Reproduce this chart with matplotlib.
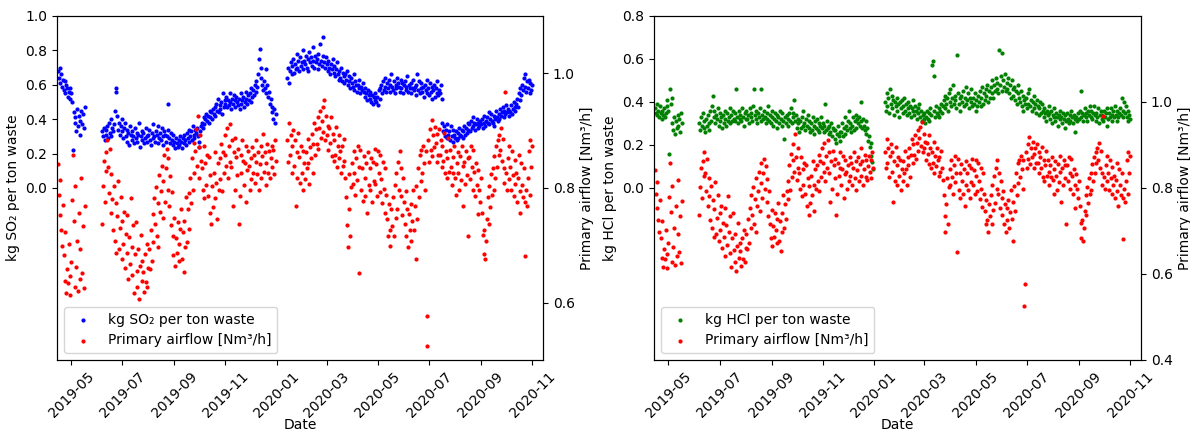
import numpy as np
import pandas as pd
import matplotlib
matplotlib.use('Agg')
from matplotlib import pyplot as plt
import matplotlib.dates as mdates

# three measuring periods (start dates), daily values
seg_starts = ['2019-04-15', '2019-06-07', '2020-01-14']

# kg SO2 per ton waste
so2_a = [0.68, 0.64, 0.70, 0.61, 0.66, 0.59, 0.63,
         0.57, 0.62, 0.55, 0.60, 0.58, 0.53, 0.56,
         0.52, 0.58, 0.55, 0.50, 0.22, 0.44, 0.38,
         0.41, 0.33, 0.46, 0.36, 0.42, 0.31, 0.39,
         0.45, 0.37, 0.43, 0.35, 0.47]
so2_b = [0.33, 0.30, 0.35, 0.28, 0.34, 0.31, 0.36,
         0.29, 0.38, 0.32, 0.40, 0.30, 0.35, 0.33,
         0.37, 0.45, 0.56, 0.58, 0.42, 0.34, 0.38,
         0.31, 0.36, 0.40, 0.33, 0.29, 0.35, 0.38,
         0.30, 0.27, 0.34, 0.32, 0.25, 0.36, 0.31,
         0.28, 0.33, 0.30, 0.26, 0.35, 0.29, 0.32,
         0.27, 0.31, 0.38, 0.24, 0.30, 0.33, 0.28,
         0.32, 0.26, 0.29, 0.35, 0.30, 0.27, 0.31,
         0.34, 0.28, 0.25, 0.32, 0.37, 0.29, 0.30,
         0.27, 0.33, 0.31, 0.26, 0.36, 0.29, 0.32,
         0.28, 0.35, 0.30, 0.25, 0.33, 0.31, 0.27,
         0.30, 0.34, 0.49, 0.29, 0.26, 0.32, 0.28,
         0.31, 0.25, 0.27, 0.23, 0.29, 0.26, 0.24,
         0.28, 0.25, 0.30, 0.27, 0.23, 0.29, 0.26,
         0.31, 0.28, 0.25, 0.32, 0.29, 0.34, 0.27,
         0.30, 0.33, 0.28, 0.36, 0.31, 0.29, 0.34,
         0.32, 0.35, 0.30, 0.27, 0.24, 0.33, 0.36,
         0.38, 0.35, 0.41, 0.37, 0.40, 0.43, 0.39,
         0.42, 0.38, 0.45, 0.41, 0.44, 0.40, 0.46,
         0.43, 0.47, 0.42, 0.49, 0.45, 0.52, 0.44,
         0.48, 0.46, 0.50, 0.43, 0.55, 0.47, 0.51,
         0.49, 0.53, 0.47, 0.51, 0.48, 0.55, 0.50,
         0.46, 0.52, 0.49, 0.54, 0.47, 0.51, 0.53,
         0.50, 0.48, 0.52, 0.46, 0.55, 0.49, 0.51,
         0.53, 0.47, 0.50, 0.56, 0.52, 0.49, 0.54,
         0.51, 0.55, 0.58, 0.50, 0.53, 0.57, 0.54,
         0.60, 0.56, 0.62, 0.59, 0.66, 0.75, 0.81,
         0.70, 0.64, 0.60, 0.57, 0.62, 0.58, 0.55,
         0.69, 0.60, 0.53, 0.56, 0.49, 0.52, 0.47,
         0.44, 0.40, 0.46, 0.38, 0.43]
so2_c = [0.64, 0.70, 0.61, 0.68, 0.73, 0.66, 0.71,
         0.75, 0.67, 0.72, 0.69, 0.78, 0.70, 0.74,
         0.68, 0.76, 0.71, 0.73, 0.80, 0.69, 0.74,
         0.72, 0.77, 0.70, 0.75, 0.68, 0.79, 0.73,
         0.76, 0.71, 0.74, 0.82, 0.70, 0.77, 0.73,
         0.75, 0.69, 0.78, 0.72, 0.84, 0.74, 0.71,
         0.77, 0.88, 0.73, 0.70, 0.76, 0.72, 0.68,
         0.74, 0.70, 0.66, 0.72, 0.69, 0.75, 0.67,
         0.71, 0.65, 0.69, 0.73, 0.66, 0.63, 0.68,
         0.64, 0.70, 0.62, 0.67, 0.65, 0.61, 0.66,
         0.63, 0.68, 0.60, 0.65, 0.62, 0.58, 0.64,
         0.61, 0.59, 0.66, 0.57, 0.62, 0.60, 0.56,
         0.60, 0.58, 0.63, 0.55, 0.59, 0.57, 0.61,
         0.56, 0.53, 0.58, 0.55, 0.51, 0.57, 0.54,
         0.52, 0.56, 0.50, 0.54, 0.49, 0.53, 0.51,
         0.55, 0.50, 0.53, 0.48, 0.57, 0.52, 0.58,
         0.60, 0.55, 0.62, 0.57, 0.59, 0.64, 0.56,
         0.61, 0.58, 0.63, 0.56, 0.60, 0.66, 0.59,
         0.57, 0.62, 0.55, 0.60, 0.58, 0.64, 0.61,
         0.59, 0.56, 0.63, 0.58, 0.61, 0.55, 0.60,
         0.62, 0.57, 0.59, 0.65, 0.56, 0.60, 0.58,
         0.55, 0.61, 0.58, 0.63, 0.57, 0.59, 0.54,
         0.60, 0.66, 0.57, 0.62, 0.55, 0.58, 0.61,
         0.56, 0.59, 0.53, 0.60, 0.57, 0.63, 0.55,
         0.58, 0.54, 0.61, 0.56, 0.59, 0.52, 0.57,
         0.60, 0.53, 0.58, 0.55, 0.62, 0.54, 0.57,
         0.55, 0.60, 0.52, 0.38, 0.33, 0.36, 0.30,
         0.34, 0.29, 0.37, 0.31, 0.33, 0.28, 0.36,
         0.30, 0.27, 0.34, 0.31, 0.29, 0.33, 0.28,
         0.32, 0.29, 0.35, 0.31, 0.30, 0.34, 0.29,
         0.33, 0.36, 0.31, 0.35, 0.32, 0.38, 0.34,
         0.37, 0.33, 0.39, 0.35, 0.41, 0.36, 0.38,
         0.34, 0.37, 0.40, 0.35, 0.38, 0.36, 0.39,
         0.37, 0.40, 0.35, 0.38, 0.42, 0.36, 0.39,
         0.41, 0.38, 0.44, 0.37, 0.40, 0.43, 0.39,
         0.38, 0.42, 0.36, 0.40, 0.45, 0.41, 0.39,
         0.43, 0.40, 0.46, 0.42, 0.44, 0.47, 0.41,
         0.45, 0.43, 0.48, 0.44, 0.46, 0.42, 0.45,
         0.44, 0.48, 0.43, 0.46, 0.50, 0.45, 0.47,
         0.49, 0.52, 0.47, 0.55, 0.51, 0.58, 0.54,
         0.60, 0.57, 0.64, 0.59, 0.66, 0.56, 0.62,
         0.58, 0.63, 0.55, 0.61, 0.57, 0.60]

# kg HCl per ton waste
hcl_a = [0.37, 0.35, 0.39, 0.34, 0.36, 0.33, 0.38,
         0.35, 0.32, 0.36, 0.34, 0.37, 0.33, 0.35,
         0.38, 0.41, 0.36, 0.16, 0.46, 0.39, 0.42,
         0.30, 0.27, 0.33, 0.25, 0.31, 0.28, 0.34,
         0.29, 0.32, 0.26, 0.35, 0.30]
hcl_b = [0.30, 0.27, 0.33, 0.29, 0.35, 0.28, 0.31,
         0.26, 0.32, 0.29, 0.34, 0.30, 0.27, 0.36,
         0.31, 0.38, 0.43, 0.33, 0.36, 0.30, 0.34,
         0.32, 0.37, 0.29, 0.35, 0.31, 0.33, 0.28,
         0.34, 0.30, 0.36, 0.32, 0.29, 0.35, 0.31,
         0.33, 0.37, 0.30, 0.34, 0.31, 0.36, 0.32,
         0.35, 0.31, 0.46, 0.33, 0.30, 0.36, 0.32,
         0.34, 0.31, 0.37, 0.33, 0.29, 0.35, 0.32,
         0.36, 0.32, 0.34, 0.30, 0.37, 0.33, 0.35,
         0.31, 0.38, 0.46, 0.34, 0.32, 0.36, 0.30,
         0.35, 0.33, 0.37, 0.46, 0.31, 0.34, 0.32,
         0.36, 0.33, 0.30, 0.35, 0.32, 0.38, 0.31,
         0.34, 0.30, 0.33, 0.36, 0.29, 0.32, 0.35,
         0.31, 0.34, 0.28, 0.33, 0.30, 0.36, 0.32,
         0.29, 0.35, 0.31, 0.23, 0.33, 0.30, 0.34,
         0.32, 0.29, 0.35, 0.31, 0.37, 0.30, 0.33,
         0.35, 0.41, 0.31, 0.34, 0.28, 0.32, 0.30,
         0.26, 0.31, 0.28, 0.33, 0.29, 0.36, 0.30,
         0.27, 0.32, 0.29, 0.34, 0.28, 0.31, 0.26,
         0.30, 0.27, 0.33, 0.29, 0.25, 0.31, 0.28,
         0.32, 0.27, 0.30, 0.26, 0.29, 0.33, 0.28,
         0.30, 0.26, 0.29, 0.39, 0.27, 0.31, 0.28,
         0.25, 0.29, 0.26, 0.30, 0.24, 0.28, 0.27,
         0.23, 0.27, 0.21, 0.25, 0.29, 0.24, 0.26,
         0.22, 0.26, 0.30, 0.24, 0.28, 0.33, 0.25,
         0.29, 0.27, 0.31, 0.36, 0.28, 0.30, 0.26,
         0.29, 0.33, 0.27, 0.31, 0.34, 0.28, 0.32,
         0.30, 0.33, 0.29, 0.40, 0.31, 0.28, 0.32,
         0.29, 0.27, 0.31, 0.25, 0.28, 0.22, 0.24,
         0.19, 0.21, 0.15, 0.12, 0.09]
hcl_c = [0.40, 0.36, 0.44, 0.38, 0.42, 0.35, 0.46,
         0.39, 0.43, 0.37, 0.41, 0.34, 0.40, 0.38,
         0.42, 0.36, 0.39, 0.33, 0.40, 0.37, 0.41,
         0.35, 0.38, 0.42, 0.36, 0.39, 0.34, 0.37,
         0.40, 0.35, 0.38, 0.33, 0.37, 0.41, 0.36,
         0.34, 0.38, 0.36, 0.32, 0.37, 0.35, 0.39,
         0.33, 0.36, 0.31, 0.34, 0.32, 0.35, 0.30,
         0.33, 0.36, 0.32, 0.35, 0.31, 0.37, 0.34,
         0.57, 0.59, 0.52, 0.36, 0.33, 0.38, 0.35,
         0.34, 0.37, 0.33, 0.36, 0.39, 0.35, 0.38,
         0.41, 0.37, 0.43, 0.39, 0.42, 0.36, 0.44,
         0.40, 0.46, 0.38, 0.42, 0.48, 0.39, 0.43,
         0.41, 0.37, 0.62, 0.44, 0.39, 0.42, 0.36,
         0.43, 0.40, 0.45, 0.38, 0.42, 0.47, 0.39,
         0.41, 0.44, 0.37, 0.42, 0.40, 0.46, 0.38,
         0.42, 0.39, 0.44, 0.36, 0.41, 0.38, 0.43,
         0.40, 0.45, 0.38, 0.42, 0.47, 0.39, 0.44,
         0.41, 0.46, 0.43, 0.48, 0.40, 0.45, 0.42,
         0.47, 0.44, 0.50, 0.42, 0.48, 0.45, 0.51,
         0.46, 0.49, 0.44, 0.64, 0.48, 0.52, 0.45,
         0.63, 0.50, 0.47, 0.53, 0.45, 0.49, 0.46,
         0.51, 0.44, 0.48, 0.42, 0.50, 0.46, 0.43,
         0.47, 0.41, 0.45, 0.39, 0.44, 0.48, 0.42,
         0.40, 0.45, 0.38, 0.43, 0.36, 0.41, 0.39,
         0.42, 0.37, 0.44, 0.39, 0.46, 0.38, 0.41,
         0.36, 0.40, 0.43, 0.37, 0.39, 0.35, 0.41,
         0.38, 0.34, 0.37, 0.40, 0.35, 0.39, 0.36,
         0.33, 0.37, 0.35, 0.31, 0.36, 0.34, 0.38,
         0.35, 0.32, 0.36, 0.30, 0.34, 0.37, 0.33,
         0.31, 0.35, 0.33, 0.29, 0.34, 0.32, 0.36,
         0.33, 0.30, 0.35, 0.32, 0.28, 0.34, 0.31,
         0.35, 0.32, 0.30, 0.34, 0.31, 0.36, 0.33,
         0.30, 0.34, 0.32, 0.26, 0.33, 0.31, 0.35,
         0.32, 0.36, 0.33, 0.45, 0.35, 0.31, 0.34,
         0.37, 0.33, 0.35, 0.31, 0.36, 0.34, 0.38,
         0.33, 0.36, 0.32, 0.35, 0.38, 0.34, 0.31,
         0.35, 0.33, 0.37, 0.30, 0.34, 0.36, 0.32,
         0.34, 0.31, 0.36, 0.33, 0.35, 0.29, 0.37,
         0.32, 0.35, 0.33, 0.37, 0.31, 0.34, 0.36,
         0.33, 0.38, 0.34, 0.31, 0.36, 0.33, 0.35,
         0.37, 0.34, 0.42, 0.36, 0.33, 0.40, 0.35,
         0.38, 0.33, 0.36, 0.31, 0.34, 0.32]

# primary airflow (normalised)
air_a = [0.842, 0.787, 0.753, 0.814, 0.726, 0.698, 0.771,
         0.683, 0.638, 0.724, 0.617, 0.659, 0.634, 0.702,
         0.646, 0.613, 0.671, 0.779, 0.858, 0.743, 0.627,
         0.804, 0.662, 0.708, 0.621, 0.757, 0.641, 0.693,
         0.818, 0.652, 0.734, 0.626, 0.769]
air_b = [0.738, 0.803, 0.847, 0.776, 0.862, 0.829, 0.884,
         0.836, 0.792, 0.868, 0.757, 0.824, 0.781, 0.726,
         0.804, 0.708, 0.773, 0.687, 0.752, 0.813, 0.694,
         0.731, 0.784, 0.676, 0.742, 0.703, 0.758, 0.661,
         0.719, 0.687, 0.753, 0.642, 0.714, 0.668, 0.782,
         0.697, 0.648, 0.736, 0.617, 0.684, 0.741, 0.656,
         0.628, 0.693, 0.606, 0.664, 0.718, 0.637, 0.672,
         0.653, 0.619, 0.684, 0.636, 0.702, 0.627, 0.661,
         0.694, 0.658, 0.727, 0.673, 0.754, 0.706, 0.783,
         0.738, 0.802, 0.716, 0.774, 0.697, 0.823, 0.758,
         0.794, 0.838, 0.747, 0.812, 0.857, 0.776, 0.834,
         0.868, 0.797, 0.852, 0.768, 0.821, 0.736, 0.793,
         0.717, 0.683, 0.748, 0.664, 0.712, 0.686, 0.741,
         0.703, 0.672, 0.728, 0.764, 0.676, 0.723, 0.654,
         0.742, 0.697, 0.784, 0.706, 0.763, 0.728, 0.792,
         0.817, 0.774, 0.853, 0.796, 0.878, 0.826, 0.864,
         0.903, 0.838, 0.926, 0.872, 0.818, 0.893, 0.847,
         0.834, 0.797, 0.873, 0.782, 0.843, 0.806, 0.858,
         0.786, 0.854, 0.757, 0.823, 0.738, 0.804, 0.766,
         0.827, 0.783, 0.862, 0.808, 0.746, 0.843, 0.797,
         0.853, 0.816, 0.877, 0.794, 0.862, 0.826, 0.893,
         0.857, 0.838, 0.904, 0.817, 0.874, 0.846, 0.912,
         0.836, 0.884, 0.768, 0.862, 0.797, 0.887, 0.854,
         0.823, 0.868, 0.737, 0.786, 0.858, 0.827, 0.883,
         0.847, 0.806, 0.843, 0.874, 0.776, 0.832, 0.864,
         0.838, 0.797, 0.853, 0.816, 0.872, 0.827, 0.857,
         0.808, 0.846, 0.884, 0.824, 0.863, 0.796, 0.842,
         0.873, 0.817, 0.856, 0.894, 0.828, 0.862, 0.806,
         0.843, 0.877, 0.826, 0.864, 0.818, 0.852, 0.874,
         0.837, 0.866, 0.824, 0.883, 0.847]
air_c = [0.883, 0.846, 0.914, 0.857, 0.893, 0.826, 0.874,
         0.902, 0.838, 0.884, 0.768, 0.863, 0.817, 0.896,
         0.854, 0.808, 0.873, 0.827, 0.864, 0.796, 0.843,
         0.816, 0.862, 0.834, 0.886, 0.843, 0.807, 0.872,
         0.853, 0.894, 0.826, 0.877, 0.913, 0.858, 0.903,
         0.876, 0.923, 0.868, 0.904, 0.934, 0.887, 0.917,
         0.942, 0.897, 0.953, 0.884, 0.926, 0.893, 0.908,
         0.866, 0.904, 0.878, 0.924, 0.856, 0.894, 0.847,
         0.883, 0.857, 0.906, 0.836, 0.874, 0.852, 0.893,
         0.864, 0.827, 0.873, 0.838, 0.886, 0.847, 0.818,
         0.784, 0.736, 0.697, 0.763, 0.824, 0.716, 0.802,
         0.843, 0.807, 0.864, 0.826, 0.787, 0.853, 0.814,
         0.874, 0.836, 0.652, 0.867, 0.796, 0.834, 0.777,
         0.856, 0.817, 0.786, 0.843, 0.757, 0.862, 0.806,
         0.834, 0.796, 0.853, 0.776, 0.846, 0.813, 0.868,
         0.807, 0.842, 0.786, 0.864, 0.827, 0.793, 0.857,
         0.816, 0.774, 0.846, 0.798, 0.756, 0.834, 0.787,
         0.746, 0.717, 0.772, 0.726, 0.698, 0.763, 0.734,
         0.784, 0.716, 0.806, 0.748, 0.827, 0.764, 0.846,
         0.797, 0.864, 0.786, 0.834, 0.753, 0.817, 0.776,
         0.738, 0.794, 0.716, 0.763, 0.697, 0.754, 0.726,
         0.772, 0.707, 0.743, 0.796, 0.727, 0.768, 0.676,
         0.804, 0.746, 0.834, 0.784, 0.857, 0.812, 0.866,
         0.826, 0.874, 0.843, 0.797, 0.864, 0.525, 0.577,
         0.884, 0.846, 0.903, 0.867, 0.918, 0.856, 0.893,
         0.872, 0.907, 0.878, 0.846, 0.894, 0.858, 0.903,
         0.857, 0.884, 0.836, 0.873, 0.847, 0.896, 0.826,
         0.864, 0.817, 0.853, 0.887, 0.828, 0.866, 0.837,
         0.806, 0.854, 0.826, 0.873, 0.818, 0.787, 0.843,
         0.862, 0.827, 0.796, 0.856, 0.814, 0.874, 0.838,
         0.768, 0.846, 0.807, 0.864, 0.823, 0.853, 0.717,
         0.854, 0.816, 0.873, 0.836, 0.797, 0.867, 0.828,
         0.786, 0.844, 0.806, 0.754, 0.832, 0.797, 0.776,
         0.817, 0.757, 0.718, 0.684, 0.726, 0.676, 0.708,
         0.746, 0.784, 0.737, 0.803, 0.766, 0.824, 0.787,
         0.834, 0.796, 0.856, 0.817, 0.873, 0.836, 0.884,
         0.858, 0.893, 0.866, 0.904, 0.847, 0.886, 0.834,
         0.808, 0.967, 0.826, 0.797, 0.853, 0.816, 0.874,
         0.836, 0.796, 0.864, 0.823, 0.786, 0.848, 0.807,
         0.827, 0.776, 0.818, 0.857, 0.794, 0.757, 0.843,
         0.806, 0.784, 0.834, 0.776, 0.682, 0.797, 0.768,
         0.817, 0.864, 0.787, 0.883, 0.836, 0.874]


def to_series(parts):
    # join the three periods into one date-indexed series
    pieces = []
    for start, vals in zip(seg_starts, parts):
        idx = pd.date_range(start, periods=len(vals), freq='D')
        pieces.append(pd.Series(vals, index=idx))
    return pd.concat(pieces)


def plot_pair(fig, rect, pollutant, color, label, ylim, yticks):
    ax = fig.add_axes(rect)
    ax2 = ax.twinx()

    p1 = ax.scatter(pollutant.index, pollutant.values, s=4, color=color, label=label)
    p2 = ax2.scatter(airflow.index, airflow.values, s=4, color='red',
                     label='Primary airflow [Nm³/h]')

    ax.set_ylim(*ylim)
    ax.set_yticks(yticks)
    ax.set_ylabel(label)
    ax.set_xlabel('Date', labelpad=-2)
    ax.set_xlim(pd.Timestamp('2019-04-14'), pd.Timestamp('2020-11-14'))
    ax.xaxis.set_major_locator(mdates.MonthLocator(bymonth=[1, 3, 5, 7, 9, 11]))
    ax.xaxis.set_major_formatter(mdates.DateFormatter('%Y-%m'))
    for lbl in ax.get_xticklabels():
        lbl.set_rotation(45)
    ax2.set_ylabel('Primary airflow [Nm³/h]')
    ax2.legend(handles=[p1, p2], loc='lower left', fontsize=10)
    return ax, ax2


so2 = to_series([so2_a, so2_b, so2_c])
hcl = to_series([hcl_a, hcl_b, hcl_c])
airflow = to_series([air_a, air_b, air_c])

fig = plt.figure(figsize=(11.9, 4.32), dpi=100)

axl, axl2 = plot_pair(fig, [0.0479, 0.1667, 0.4084, 0.7963], so2, 'blue',
                      'kg SO₂ per ton waste', (-1.0, 1.0), [0.0, 0.2, 0.4, 0.6, 0.8, 1.0])
axl2.set_ylim(0.5, 1.1)
axl2.set_yticks([0.6, 0.8, 1.0])

axr, axr2 = plot_pair(fig, [0.5496, 0.1667, 0.4092, 0.7963], hcl, 'green',
                      'kg HCl per ton waste', (-0.8, 0.8), [0.0, 0.2, 0.4, 0.6, 0.8])
axr2.set_ylim(0.4, 1.2)
axr2.set_yticks([0.4, 0.6, 0.8, 1.0])

fig.savefig('out.png', dpi=100)
